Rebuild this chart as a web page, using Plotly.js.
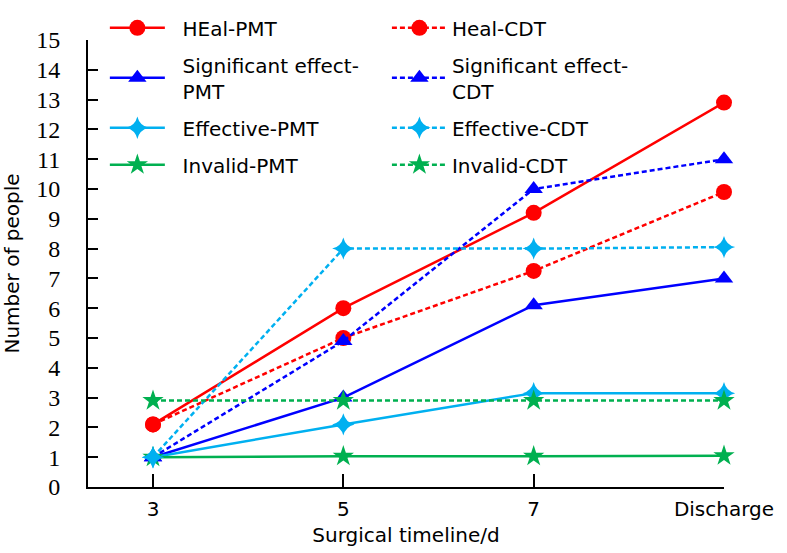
<!DOCTYPE html>
<html>
<head>
<meta charset="utf-8">
<script src="https://cdn.plot.ly/plotly-3.0.1.min.js"></script>
<style>html,body{margin:0;padding:0;background:#fff;}#chart{width:787px;height:553px;}</style>
</head>
<body>
<div id="chart"></div>
<script>
const categories = ['3', '5', '7', 'Discharge'];
const healPMT = [2.1, 6.0, 9.2, 12.9];
const healCDT = [2.1, 5.0, 7.25, 9.9];
const sigPMT = [1.0, 3.0, 6.1, 7.0];
const sigCDT = [1.0, 4.9, 10.0, 11.0];
const effPMT = [1.0, 2.1, 3.15, 3.15];
const effCDT = [1.0, 8.0, 8.0, 8.05];
const invPMT = [1.0, 1.03, 1.03, 1.05];
const invCDT = [2.9, 2.9, 2.9, 2.9];
const yTicks = [0,1,2,3,4,5,6,7,8,9,10,11,12,13,14,15];

const RED = '#ff0000', BLUE = '#0000ff', LBLUE = '#00b0f0', GREEN = '#00b050';
const NB = '\u00a0\u00a0';
const DASH = '5px,3px';

function tr(name, y, color, symbol, dashed, legend, group) {
  return {
    type: 'scatter', mode: 'lines+markers', x: categories, y: y, name: name,
    legend: legend, legendgroup: group,
    line: {color: color, width: 2.5, dash: dashed ? DASH : 'solid'},
    marker: {color: color, symbol: symbol, size: 16, line: {width: 0}},
    cliponaxis: false, hoverinfo: 'skip'
  };
}

const data = [
  tr(NB + 'HEal-PMT', healPMT, RED, 'circle', false, 'legend', 'a1'),
  tr(NB + 'Significant effect-<br>' + NB + 'PMT', sigPMT, BLUE, 'triangle-up', false, 'legend', 'a2'),
  tr(NB + 'Effective-PMT', effPMT, LBLUE, 'star-diamond', false, 'legend', 'a3'),
  tr(NB + 'Invalid-PMT', invPMT, GREEN, 'star', false, 'legend', 'a4'),
  tr('Heal-CDT', healCDT, RED, 'circle', true, 'legend2', 'b1'),
  tr('Significant effect-<br>CDT', sigCDT, BLUE, 'triangle-up', true, 'legend2', 'b2'),
  tr('Effective-CDT', effCDT, LBLUE, 'star-diamond', true, 'legend2', 'b3'),
  tr('Invalid-CDT', invCDT, GREEN, 'star', true, 'legend2', 'b4')
];

const legendFont = {family: 'DejaVu Sans', size: 20, color: '#000'};
const layout = {
  width: 787, height: 553,
  margin: {l: 88, r: 63, t: 40, b: 66, autoexpand: false},
  paper_bgcolor: '#fff', plot_bgcolor: '#fff',
  showlegend: true,
  legend: {
    x: 0.0265, y: 0.985, xanchor: 'left', yanchor: 'top', xref: 'paper', yref: 'container',
    bgcolor: 'rgba(0,0,0,0)', borderwidth: 0, font: legendFont,
    itemwidth: 55, tracegroupgap: 8, traceorder: 'grouped', valign: 'middle', itemsizing: 'trace'
  },
  legend2: {
    x: 0.47, y: 0.985, xanchor: 'left', yanchor: 'top', xref: 'paper', yref: 'container',
    bgcolor: 'rgba(0,0,0,0)', borderwidth: 0, font: legendFont,
    itemwidth: 55, tracegroupgap: 8, traceorder: 'grouped', valign: 'middle', itemsizing: 'trace'
  },
  xaxis: {
    type: 'category', range: [-0.3415, 3],
    showline: true, linecolor: '#000', linewidth: 2,
    ticks: 'inside', ticklen: 13, tickwidth: 2, tickcolor: '#000',
    showgrid: false, zeroline: false,
    tickfont: {family: 'DejaVu Sans', size: 20, color: '#000'},
    ticklabelstandoff: 3,
    title: {text: 'Surgical timeline/d', font: {family: 'DejaVu Sans', size: 20, color: '#000'}, standoff: 8}
  },
  yaxis: {
    range: [0, 15], tickvals: yTicks, ticktext: yTicks.map(String),
    showline: true, linecolor: '#000', linewidth: 2,
    ticks: 'inside', ticklen: 10, tickwidth: 2, tickcolor: '#000',
    showgrid: false, zeroline: false,
    tickfont: {family: 'Times New Roman, Liberation Serif, serif', size: 24, color: '#000'},
    ticklabelstandoff: 21,
    title: {text: 'Number of people', font: {family: 'DejaVu Sans', size: 20, color: '#000'}, standoff: 12}
  }
};

Plotly.newPlot('chart', data, layout, {displayModeBar: false, staticPlot: true});
</script>
</body>
</html>
